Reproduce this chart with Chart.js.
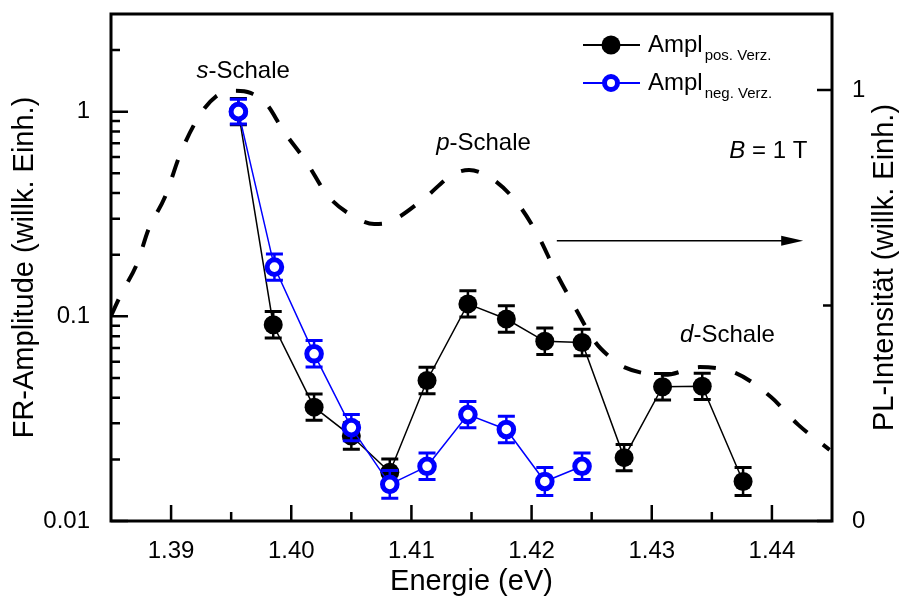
<!DOCTYPE html>
<html lang="de">
<head>
<meta charset="UTF-8">
<title>FR-Amplitude und PL-Intensität</title>
<script src="https://cdn.jsdelivr.net/npm/chart.js"></script>
<style>
  body { margin: 0; background: #fff; }
  canvas { display: block; }
</style>
</head>
<body>
<canvas id="chart" width="904" height="596"></canvas>
<script>
// FR-Amplitude, positive Verzoegerung (Energie in eV, Amplitude, rel. Fehler)
const ePos = [1.3956, 1.3985, 1.4019, 1.4050, 1.4082, 1.4113, 1.4147, 1.4179, 1.4211, 1.4242, 1.4277, 1.4309, 1.4342, 1.4376];
const aPos = [1.0, 0.091, 0.036, 0.026, 0.0173, 0.0486, 0.115, 0.097, 0.0755, 0.0745, 0.0204, 0.0453, 0.0455, 0.0156];
const errPos = [0.16, 0.16, 0.16, 0.16, 0.16, 0.16, 0.16, 0.16, 0.16, 0.16, 0.16, 0.16, 0.16, 0.17];

// FR-Amplitude, negative Verzoegerung
const eNeg = [1.3956, 1.3986, 1.4019, 1.4050, 1.4082, 1.4113, 1.4147, 1.4179, 1.4211, 1.4242];
const aNeg = [1.0, 0.174, 0.0656, 0.0286, 0.0151, 0.0185, 0.0331, 0.028, 0.0156, 0.0185];
const errNeg = [0.15, 0.16, 0.16, 0.16, 0.17, 0.16, 0.16, 0.16, 0.17, 0.16];

// PL-Spektrum (rechte Achse)
const ePL = [1.3850, 1.3858, 1.3872, 1.3881, 1.3895, 1.3908, 1.3924, 1.3937, 1.3953, 1.3966, 1.3980, 1.3993,
             1.4013, 1.4030, 1.4054, 1.4069, 1.4082, 1.4111, 1.4134, 1.4148, 1.4166, 1.4188, 1.4206, 1.4220,
             1.4235, 1.4253, 1.4264, 1.4277, 1.4311, 1.4340, 1.4370, 1.4399, 1.4422, 1.4448];
const iPL = [0.476, 0.524, 0.599, 0.675, 0.752, 0.854, 0.942, 0.984, 0.998, 0.993, 0.965, 0.907,
             0.831, 0.756, 0.703, 0.689, 0.694, 0.749, 0.803, 0.814, 0.796, 0.738, 0.659, 0.578,
             0.501, 0.415, 0.383, 0.357, 0.339, 0.357, 0.343, 0.288, 0.223, 0.165];

// Achsenticks
const xMajor = [1.39, 1.40, 1.41, 1.42, 1.43, 1.44];
const xMinor = [1.395, 1.405, 1.415, 1.425, 1.435];
const yMajor = [0.01, 0.1, 1];
const yMinor = [0.02, 0.03, 0.04, 0.05, 0.06, 0.07, 0.08, 0.09, 0.2, 0.3, 0.4, 0.5, 0.6, 0.7, 0.8, 0.9, 2];
const y2Major = [0, 1];
const y2Minor = [0.5];

// Beschriftungen im Plot (Energie, PL-Wert, Textteile [text, kursiv])
const notes = [
  { e: 1.3960, pl: 1.028, parts: [['s', true], ['-Schale', false]] },
  { e: 1.4160, pl: 0.861, parts: [['p', true], ['-Schale', false]] },
  { e: 1.4363, pl: 0.415, parts: [['d', true], ['-Schale', false]] },
  { e: 1.4397, pl: 0.842, parts: [['B', true], [' = 1 T', false]] }
];
const arrowE = [1.4221, 1.4426];
const arrowPL = 0.65;

const FAM = "'Liberation Sans', Arial, sans-serif";
Chart.defaults.font.family = FAM;
Chart.defaults.color = '#000';

function pts(xs, ys) {
  return xs.map((x, i) => ({ x: x, y: ys[i] }));
}

// Chart.js reserviert sonst Platz fuer halbe Labelhoehen am Rand
function fixBox(s, key, size) {
  s[key] = size;
  s.paddingTop = 0; s.paddingBottom = 0;
  s.paddingLeft = 0; s.paddingRight = 0;
}

function drawParts(ctx, parts, x, y, size) {
  let w = 0;
  parts.forEach(p => {
    ctx.font = (p[1] ? 'italic ' : '') + size + 'px ' + FAM;
    w += ctx.measureText(p[0]).width;
  });
  let cx = x - w / 2;
  ctx.textAlign = 'left';
  ctx.textBaseline = 'alphabetic';
  parts.forEach(p => {
    ctx.font = (p[1] ? 'italic ' : '') + size + 'px ' + FAM;
    ctx.fillText(p[0], cx, y);
    cx += ctx.measureText(p[0]).width;
  });
}

const deco = {
  id: 'deco',
  beforeDatasetDraw(chart, args) {
    const ds = chart.data.datasets[args.index];
    if (!ds.errRel) return;
    const ctx = chart.ctx;
    const ys = chart.scales.y;
    ctx.save();
    ctx.strokeStyle = ds.borderColor;
    args.meta.data.forEach((pt, i) => {
      const v = ds.data[i].y, e = ds.errRel[i];
      const top = ys.getPixelForValue(v * (1 + e));
      const bot = ys.getPixelForValue(v / (1 + e));
      ctx.lineWidth = 2.5;
      ctx.beginPath();
      ctx.moveTo(pt.x, top); ctx.lineTo(pt.x, bot);
      ctx.stroke();
      ctx.lineWidth = 3;
      ctx.beginPath();
      ctx.moveTo(pt.x - 8.5, top); ctx.lineTo(pt.x + 8.5, top);
      ctx.moveTo(pt.x - 8.5, bot); ctx.lineTo(pt.x + 8.5, bot);
      ctx.stroke();
    });
    ctx.restore();
  },
  afterDraw(chart) {
    const ctx = chart.ctx;
    const a = chart.chartArea;
    const sx = chart.scales.x, sy = chart.scales.y, sy2 = chart.scales.y2;
    ctx.save();
    ctx.strokeStyle = '#000';
    ctx.fillStyle = '#000';

    // Rahmen
    ctx.lineWidth = 3;
    ctx.strokeRect(a.left, a.top, a.right - a.left, a.bottom - a.top);

    // Ticks nach innen
    ctx.lineWidth = 2.5;
    ctx.beginPath();
    const xt = (v, len) => { const p = sx.getPixelForValue(v); ctx.moveTo(p, a.bottom); ctx.lineTo(p, a.bottom - len); };
    const yt = (v, len) => { const p = sy.getPixelForValue(v); ctx.moveTo(a.left, p); ctx.lineTo(a.left + len, p); };
    const y2t = (v, len) => { const p = sy2.getPixelForValue(v); ctx.moveTo(a.right, p); ctx.lineTo(a.right - len, p); };
    xMajor.forEach(v => xt(v, 16));
    xMinor.forEach(v => xt(v, 9));
    yMajor.forEach(v => yt(v, 17));
    yMinor.forEach(v => yt(v, 9));
    y2Major.forEach(v => y2t(v, 15));
    y2Minor.forEach(v => y2t(v, 9));
    ctx.stroke();

    // Beschriftungen
    notes.forEach(n => {
      drawParts(ctx, n.parts, sx.getPixelForValue(n.e), sy2.getPixelForValue(n.pl), 24);
    });

    // Pfeil zur rechten Achse
    const ay = sy2.getPixelForValue(arrowPL);
    const ax0 = sx.getPixelForValue(arrowE[0]), ax1 = sx.getPixelForValue(arrowE[1]);
    ctx.lineWidth = 1.5;
    ctx.beginPath();
    ctx.moveTo(ax0, ay); ctx.lineTo(ax1 - 18, ay);
    ctx.stroke();
    ctx.beginPath();
    ctx.moveTo(ax1, ay); ctx.lineTo(ax1 - 22, ay - 5); ctx.lineTo(ax1 - 22, ay + 5);
    ctx.closePath();
    ctx.fill();

    // Legende
    const rows = [
      { y: 45, color: '#000', fill: '#000', r: 9.5, bw: 0, sub: 'pos. Verz.' },
      { y: 83, color: '#0000ff', fill: '#fff', r: 6.5, bw: 5, sub: 'neg. Verz.' }
    ];
    rows.forEach(r => {
      ctx.strokeStyle = r.color;
      ctx.lineWidth = 2;
      ctx.beginPath();
      ctx.moveTo(583, r.y); ctx.lineTo(640, r.y);
      ctx.stroke();
      ctx.beginPath();
      ctx.arc(611, r.y, r.r, 0, Math.PI * 2);
      ctx.fillStyle = r.fill;
      ctx.fill();
      if (r.bw) { ctx.lineWidth = r.bw; ctx.stroke(); }
      ctx.fillStyle = '#000';
      ctx.textAlign = 'left';
      ctx.textBaseline = 'alphabetic';
      ctx.font = '24px ' + FAM;
      ctx.fillText('Ampl', 648, r.y + 7);
      const w = ctx.measureText('Ampl').width;
      ctx.font = '15px ' + FAM;
      ctx.fillText(r.sub, 648 + w + 2, r.y + 15);
    });

    // rechte Achsenbeschriftung (von unten nach oben)
    ctx.translate(885, (a.top + a.bottom) / 2);
    ctx.rotate(-Math.PI / 2);
    ctx.font = '29px ' + FAM;
    ctx.textAlign = 'center';
    ctx.textBaseline = 'middle';
    ctx.fillText('PL-Intensität (willk. Einh.)', 0, 0);
    ctx.restore();
  }
};

const noGrid = { display: false, drawTicks: false };

new Chart(document.getElementById('chart').getContext('2d'), {
  type: 'line',
  data: {
    datasets: [
      {
        label: 'PL',
        data: pts(ePL, iPL),
        yAxisID: 'y2',
        borderColor: '#000',
        borderWidth: 4,
        borderDash: [18, 20],
        pointRadius: 0,
        cubicInterpolationMode: 'monotone',
        fill: false,
        order: 3
      },
      {
        label: 'Ampl pos. Verz.',
        data: pts(ePos, aPos),
        yAxisID: 'y',
        borderColor: '#000',
        borderWidth: 1.5,
        pointRadius: 9.5,
        pointBackgroundColor: '#000',
        pointBorderColor: '#000',
        pointBorderWidth: 0,
        errRel: errPos,
        order: 2
      },
      {
        label: 'Ampl neg. Verz.',
        data: pts(eNeg, aNeg),
        yAxisID: 'y',
        borderColor: '#0000ff',
        borderWidth: 1.5,
        pointRadius: 7.3,
        pointBackgroundColor: '#fff',
        pointBorderColor: '#0000ff',
        pointBorderWidth: 5,
        errRel: errNeg,
        order: 1
      }
    ]
  },
  options: {
    responsive: false,
    animation: false,
    devicePixelRatio: 1,
    layout: { padding: { top: 14, left: 0, right: 0, bottom: 0 } },
    plugins: { legend: { display: false }, tooltip: { enabled: false } },
    scales: {
      x: {
        type: 'linear', min: 1.385, max: 1.445,
        grid: noGrid, border: { display: false },
        afterBuildTicks: s => { s.ticks = xMajor.map(v => ({ value: v })); },
        afterFit: s => fixBox(s, 'height', 75),
        ticks: { callback: v => v.toFixed(2), font: { size: 24 }, padding: 16, maxRotation: 0, autoSkip: false },
        title: { display: true, text: 'Energie (eV)', font: { size: 29, lineHeight: 1 }, padding: { top: 0, bottom: 0 } }
      },
      y: {
        type: 'logarithmic', position: 'left', min: 0.01, max: 3,
        grid: noGrid, border: { display: false },
        afterBuildTicks: s => { s.ticks = yMajor.map(v => ({ value: v })); },
        afterFit: s => fixBox(s, 'width', 111),
        ticks: { callback: v => String(v), font: { size: 24 }, padding: 21, autoSkip: false },
        title: { display: true, text: 'FR-Amplitude (willk. Einh.)', font: { size: 29, lineHeight: 1 }, padding: { top: 10, bottom: 0 } }
      },
      y2: {
        type: 'linear', position: 'right', min: 0, max: 1.176,
        grid: noGrid, border: { display: false },
        afterBuildTicks: s => { s.ticks = y2Major.map(v => ({ value: v })); },
        afterFit: s => fixBox(s, 'width', 72),
        ticks: { callback: v => String(v), font: { size: 24 }, padding: 20, autoSkip: false }
      }
    }
  },
  plugins: [deco]
});
</script>
</body>
</html>
